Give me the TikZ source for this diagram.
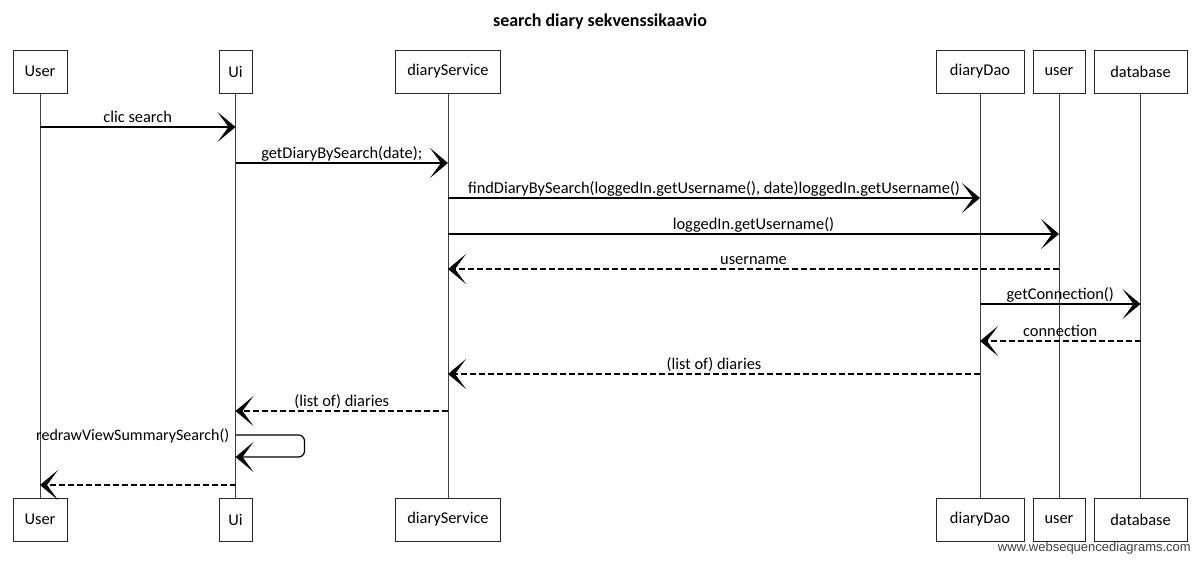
\documentclass[tikz,border=0pt]{standalone}
\usepackage{fontspec}
\setmainfont{Carlito}
\newfontfamily\wsdfont{Liberation Sans}
\usetikzlibrary{arrows.meta}
\begin{document}
\begin{tikzpicture}[x=1pt,y=-1pt,
  actor/.style={draw=black!85, line width=0.9pt, fill=white, minimum height=43pt,
    inner sep=0pt, font=\fontsize{16.4}{19}\selectfont},
  lifeline/.style={draw=black!75, line width=0.8pt},
  call/.style={draw=black, line width=1.2pt,
    -{Stealth[length=18pt,width=30pt,inset=11pt]}},
  reply/.style={call, dash pattern=on 6pt off 3pt},
  msglabel/.style={font=\fontsize{16.4}{19}\selectfont, inner sep=0pt,
    anchor=base, yshift=5pt}
]
\useasboundingbox (0,0) rectangle (1200,563);

% title
\node[font=\bfseries\fontsize{18}{21}\selectfont] (title) at (600,22)
  {search diary sekvenssikaavio};

% participants, head and foot
\foreach \n/\lbl/\xc/\w in {user/User/40/54, ui/Ui/235.5/33,
    svc/diaryService/448/105, dao/diaryDao/980/88,
    usr/user/1059/52, db/database/1140.5/93}{
  \draw[lifeline] (\xc,93) -- (\xc,498);
  \node[actor, minimum width=\w pt] (\n T) at (\xc,71.5) {\lbl};
  \node[actor, minimum width=\w pt] (\n B) at (\xc,519.5) {\lbl};
}

% message anchors on the lifelines
\coordinate (m1a) at (userT |- 0,127);  \coordinate (m1b) at (uiT |- 0,127);
\coordinate (m2a) at (uiT |- 0,163);    \coordinate (m2b) at (svcT |- 0,163);
\coordinate (m3a) at (svcT |- 0,198);   \coordinate (m3b) at (daoT |- 0,198);
\coordinate (m4a) at (svcT |- 0,234);   \coordinate (m4b) at (usrT |- 0,234);
\coordinate (m5a) at (usrT |- 0,269);   \coordinate (m5b) at (svcT |- 0,269);
\coordinate (m6a) at (daoT |- 0,304);   \coordinate (m6b) at (dbT |- 0,304);
\coordinate (m7a) at (dbT |- 0,341);    \coordinate (m7b) at (daoT |- 0,341);
\coordinate (m8a) at (daoT |- 0,374);   \coordinate (m8b) at (svcT |- 0,374);
\coordinate (m9a) at (svcT |- 0,411);   \coordinate (m9b) at (uiT |- 0,411);
\coordinate (s1a) at (uiT |- 0,435);    \coordinate (s1b) at (uiT |- 0,457);
\coordinate (m11a) at (uiT |- 0,485);   \coordinate (m11b) at (userT |- 0,485);

% messages
\draw[call] (m1a) -- node[msglabel] {clic search} (m1b);
\draw[call] (m2a) -- node[msglabel] {getDiaryBySearch(date);} (m2b);
\draw[call] (m3a) -- node[msglabel]
  {findDiaryBySearch(loggedIn.getUsername(), date)loggedIn.getUsername()} (m3b);
\draw[call] (m4a) -- node[msglabel] {loggedIn.getUsername()} (m4b);
\draw[reply] (m5a) -- node[msglabel] {username} (m5b);
\draw[call] (m6a) -- node[msglabel] {getConnection()} (m6b);
\draw[reply] (m7a) -- node[msglabel] {connection} (m7b);
\draw[reply] (m8a) -- node[msglabel] {(list of) diaries} (m8b);
\draw[reply] (m9a) -- node[msglabel] {(list of) diaries} (m9b);

% self call on Ui
\draw[call, rounded corners=6pt] (s1a) -- ++(69,0) -- ++(0,22) -- (s1b);
\node[font=\fontsize{16}{19}\selectfont, inner sep=0pt, anchor=base east]
  (selflbl) at ([xshift=-6pt, yshift=-5pt]s1a) {redrawViewSummarySearch()};

% final return to User
\draw[reply] (m11a) -- (m11b);

% credit line
\node[font=\wsdfont\fontsize{13}{15}\selectfont, text=black!75, anchor=east,
  inner sep=0pt] (credit) at (1191,548) {www.websequencediagrams.com};
\end{tikzpicture}
\end{document}
